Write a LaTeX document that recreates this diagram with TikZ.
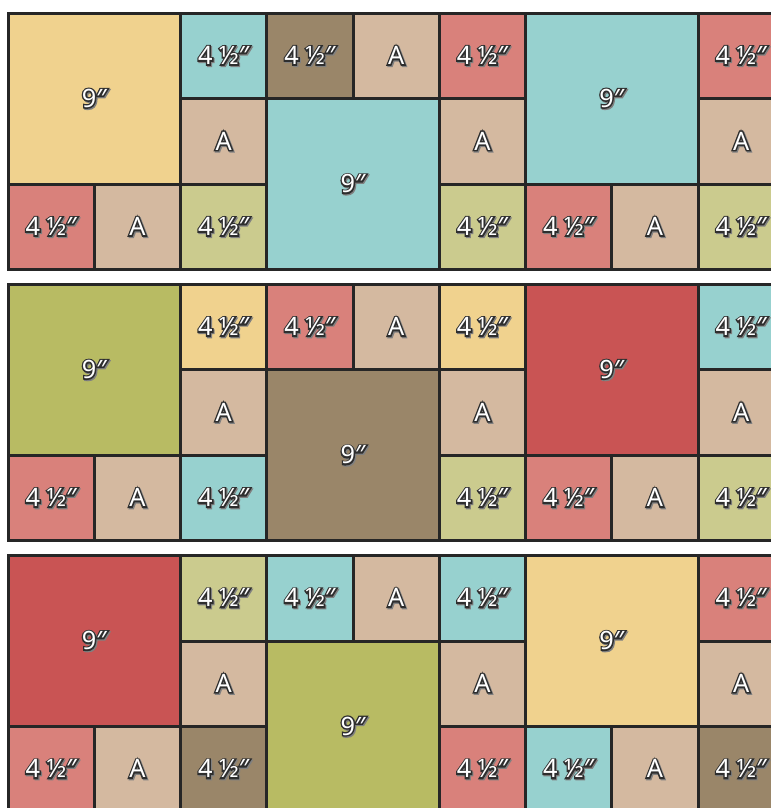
\documentclass[tikz,border=0pt]{standalone}
\usepackage{fontspec}
\newfontfamily\lblfont{Noto Sans}
\definecolor{ln}{HTML}{262626}
\definecolor{olc}{HTML}{2E2E2E}
\definecolor{shd}{HTML}{808080}
\definecolor{cy}{HTML}{F0D28E}
\definecolor{cq}{HTML}{97D1CF}
\definecolor{cb}{HTML}{9A8669}
\definecolor{ct}{HTML}{D4B9A0}
\definecolor{cs}{HTML}{D9817B}
\definecolor{cl}{HTML}{CBCB8E}
\definecolor{cg}{HTML}{B8BB63}
\definecolor{cr}{HTML}{C95454}
\newcommand\olt[1]{{\lblfont\fontsize{19}{23}\selectfont
  \rlap{\kern0.9pt\raisebox{-0.9pt}{\color{shd}\special{pdf:literal direct 2 Tr 2.1 w 0.5 0.5 0.5 RG}#1\special{pdf:literal direct 0 Tr}}}%
  \rlap{\color{olc}\special{pdf:literal direct 2 Tr 2.1 w 0.18 0.18 0.18 RG}#1\special{pdf:literal direct 0 Tr}}%
  \textcolor{white}{#1}}}
\tikzset{blk/.style={draw=ln, line width=2.25pt, inner sep=0pt, rectangle}}
\newcommand\blk[8]{%
  \pgfmathsetmacro\cx{8+(#2+#5/2)*86.25}%
  \pgfmathsetmacro\cy{13.3+271.15*(#4-1)+(#3+#6/2)*85.5}%
  \node[blk, fill=#7, minimum width=#5*64.6875pt, minimum height=#6*64.125pt] (#1) at (\cx,\cy) {\raisebox{-1.3pt}{\olt{#8}}};}
\begin{document}
\begin{tikzpicture}[x=0.75pt,y=-0.75pt]
\useasboundingbox (0,0) rectangle (771,808);
\fill[white] (0,0) rectangle (771,808);
\clip (0,0) rectangle (771,808);
% strip 1
\blk{a1}{0}{0}{1}{2}{2}{cy}{9″}
\blk{a2}{0}{2}{1}{1}{1}{cs}{4 ½″}
\blk{a3}{1}{2}{1}{1}{1}{ct}{A}
\blk{a4}{2}{0}{1}{1}{1}{cq}{4 ½″}
\blk{a5}{2}{1}{1}{1}{1}{ct}{A}
\blk{a6}{2}{2}{1}{1}{1}{cl}{4 ½″}
\blk{a7}{3}{0}{1}{1}{1}{cb}{4 ½″}
\blk{a8}{4}{0}{1}{1}{1}{ct}{A}
\blk{a9}{3}{1}{1}{2}{2}{cq}{9″}
\blk{a10}{5}{0}{1}{1}{1}{cs}{4 ½″}
\blk{a11}{5}{1}{1}{1}{1}{ct}{A}
\blk{a12}{5}{2}{1}{1}{1}{cl}{4 ½″}
\blk{a13}{6}{0}{1}{2}{2}{cq}{9″}
\blk{a14}{6}{2}{1}{1}{1}{cs}{4 ½″}
\blk{a15}{7}{2}{1}{1}{1}{ct}{A}
\blk{a16}{8}{0}{1}{1}{1}{cs}{4 ½″}
\blk{a17}{8}{1}{1}{1}{1}{ct}{A}
\blk{a18}{8}{2}{1}{1}{1}{cl}{4 ½″}
% strip 2
\blk{b1}{0}{0}{2}{2}{2}{cg}{9″}
\blk{b2}{0}{2}{2}{1}{1}{cs}{4 ½″}
\blk{b3}{1}{2}{2}{1}{1}{ct}{A}
\blk{b4}{2}{0}{2}{1}{1}{cy}{4 ½″}
\blk{b5}{2}{1}{2}{1}{1}{ct}{A}
\blk{b6}{2}{2}{2}{1}{1}{cq}{4 ½″}
\blk{b7}{3}{0}{2}{1}{1}{cs}{4 ½″}
\blk{b8}{4}{0}{2}{1}{1}{ct}{A}
\blk{b9}{3}{1}{2}{2}{2}{cb}{9″}
\blk{b10}{5}{0}{2}{1}{1}{cy}{4 ½″}
\blk{b11}{5}{1}{2}{1}{1}{ct}{A}
\blk{b12}{5}{2}{2}{1}{1}{cl}{4 ½″}
\blk{b13}{6}{0}{2}{2}{2}{cr}{9″}
\blk{b14}{6}{2}{2}{1}{1}{cs}{4 ½″}
\blk{b15}{7}{2}{2}{1}{1}{ct}{A}
\blk{b16}{8}{0}{2}{1}{1}{cq}{4 ½″}
\blk{b17}{8}{1}{2}{1}{1}{ct}{A}
\blk{b18}{8}{2}{2}{1}{1}{cl}{4 ½″}
% strip 3
\blk{c1}{0}{0}{3}{2}{2}{cr}{9″}
\blk{c2}{0}{2}{3}{1}{1}{cs}{4 ½″}
\blk{c3}{1}{2}{3}{1}{1}{ct}{A}
\blk{c4}{2}{0}{3}{1}{1}{cl}{4 ½″}
\blk{c5}{2}{1}{3}{1}{1}{ct}{A}
\blk{c6}{2}{2}{3}{1}{1}{cb}{4 ½″}
\blk{c7}{3}{0}{3}{1}{1}{cq}{4 ½″}
\blk{c8}{4}{0}{3}{1}{1}{ct}{A}
\blk{c9}{3}{1}{3}{2}{2}{cg}{9″}
\blk{c10}{5}{0}{3}{1}{1}{cq}{4 ½″}
\blk{c11}{5}{1}{3}{1}{1}{ct}{A}
\blk{c12}{5}{2}{3}{1}{1}{cs}{4 ½″}
\blk{c13}{6}{0}{3}{2}{2}{cy}{9″}
\blk{c14}{6}{2}{3}{1}{1}{cq}{4 ½″}
\blk{c15}{7}{2}{3}{1}{1}{ct}{A}
\blk{c16}{8}{0}{3}{1}{1}{cs}{4 ½″}
\blk{c17}{8}{1}{3}{1}{1}{ct}{A}
\blk{c18}{8}{2}{3}{1}{1}{cb}{4 ½″}
\end{tikzpicture}
\end{document}
